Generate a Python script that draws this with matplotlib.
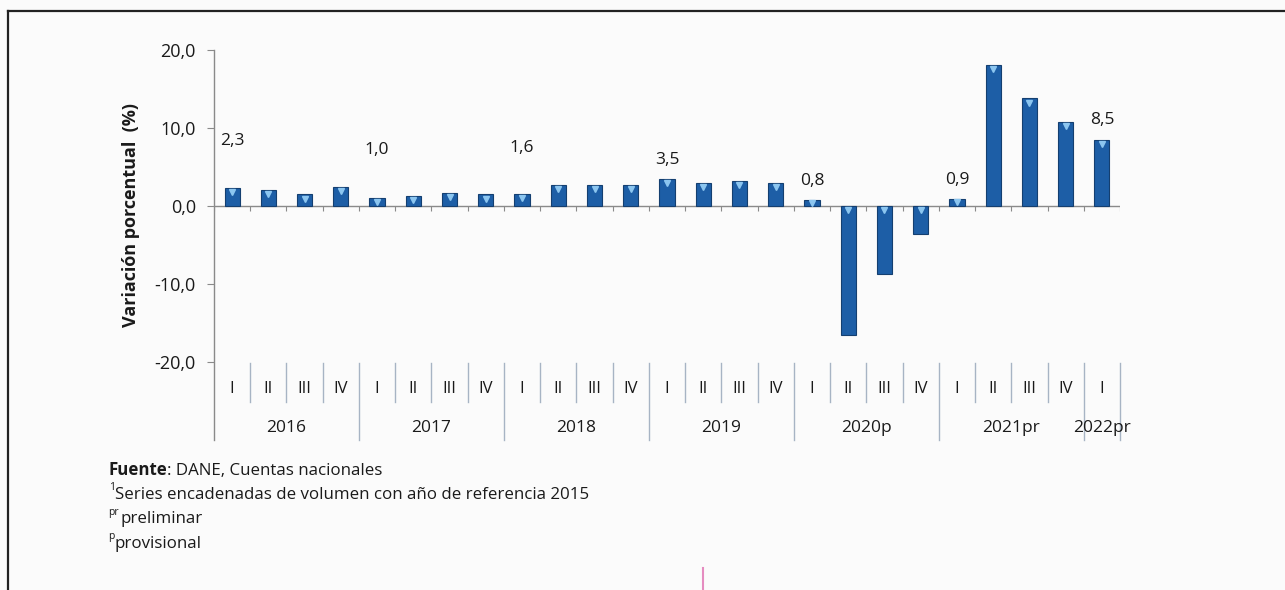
import matplotlib
matplotlib.use("Agg")
import matplotlib.pyplot as plt
from matplotlib.lines import Line2D
from matplotlib.transforms import blended_transform_factory

# ---------------- DATA ----------------
years = ["2016", "2017", "2018", "2019", "2020p", "2021pr", "2022pr"]
quarters = ["I", "II", "III", "IV"] * 6 + ["I"]
quarters_per_year = [4, 4, 4, 4, 4, 4, 1]
values = [2.3, 2.1, 1.5, 2.5, 1.0, 1.3, 1.7, 1.5,
          1.6, 2.7, 2.7, 2.7, 3.5, 3.0, 3.2, 3.0,
          0.8, -16.6, -8.7, -3.6, 0.9, 18.1, 13.8, 10.8,
          8.5]
labelled = [0, 4, 8, 12, 16, 20, 24]
yticks = [-20, -10, 0, 10, 20]

# ---------------- STYLE ----------------
FONT = "Open Sans"
plt.rcParams["font.family"] = [FONT, "DejaVu Sans"]
BAR = "#1d5ea6"
BAR_EDGE = "#143f70"
CAP = "#8cc6f0"
GRAY = "#8a8a8a"
DIV = "#a7b4c4"
TEXT = "#1a1a1a"
LABEL_LIFT = [47, 48, 46, 19, 19, 19, 20]  # pixels above bar top

W, H = 1285, 590
fig = plt.figure(figsize=(W / 100, H / 100), dpi=100)
fig.patch.set_facecolor("#fbfbfb")

ax = fig.add_axes([214 / W, 1 - 362 / H, 906 / W, 312 / H])
ax.set_facecolor("none")

x = list(range(len(values)))
ax.bar(x, values, width=0.42, color=BAR, edgecolor=BAR_EDGE, linewidth=0.8, zorder=3)

# light cap marker on the upper end of each bar
for xi, v in zip(x, values):
    top = max(v, 0)
    drop = min(0.55, abs(v) / 2)
    ax.plot(xi, top - drop, marker="v", ms=4.5, color=CAP, mec=CAP, zorder=4)

# value labels
for i, lift in zip(labelled, LABEL_LIFT):
    v = values[i]
    ax.annotate(f"{v:.1f}".replace(".", ","), xy=(i, max(v, 0)),
                xytext=(0, lift), textcoords="offset pixels",
                ha="center", va="center", fontsize=12.5, color=TEXT)

ax.set_xlim(-0.5, len(values) - 0.5)
ax.set_ylim(-20, 20)

for s in ["top", "right", "bottom", "left"]:
    ax.spines[s].set_visible(False)

ax.set_yticks(yticks)
ax.set_yticklabels([f"{t:.1f}".replace(".", ",") for t in yticks])
ax.tick_params(axis="y", length=5, width=0.8, color=GRAY, pad=8,
               labelsize=13, labelcolor=TEXT)
ax.set_xticks([])

ax.set_ylabel("Variación porcentual  (%)", fontsize=13, fontweight="bold", color=TEXT)
ax.yaxis.set_label_coords(-0.082, 0.47)

# zero line + small category ticks
ax.axhline(0, color=GRAY, lw=1, zorder=2)
bounds = [k - 0.5 for k in range(len(values) + 1)]
ax.vlines(bounds, -0.7, 0, color=GRAY, lw=0.8, zorder=2)

# left axis extended into the category area
ax.add_line(Line2D([0, 0], [-0.25, 1], transform=ax.transAxes,
                   color=GRAY, lw=1, clip_on=False))

# multi-level category axis
tr = blended_transform_factory(ax.transData, ax.transAxes)
for i, q in enumerate(quarters):
    ax.text(i, -0.088, q, transform=tr, ha="center", va="center",
            fontsize=12, color=TEXT, clip_on=False)

start = 0
year_edges = [-0.5]
for yname, n in zip(years, quarters_per_year):
    end = start + n
    ax.text((start + end - 1) / 2, -0.212, yname, transform=tr, ha="center",
            va="center", fontsize=12.5, color=TEXT, clip_on=False)
    year_edges.append(end - 0.5)
    start = end

for b in bounds[1:]:
    low = -0.25 if b in year_edges else -0.128
    ax.add_line(Line2D([b, b], [-0.003, low], transform=tr,
                       color=DIV, lw=1, clip_on=False))

# ---------------- FOOTNOTES ----------------
def fy(py):
    return 1 - py / H

fs = 12.2
t = fig.text(108 / W, fy(470), "Fuente", fontsize=fs, fontweight="bold",
             color=TEXT, va="center")
ax.annotate(": DANE, Cuentas nacionales", xy=(1, 0), xycoords=t, va="bottom",
            fontsize=fs, color=TEXT, annotation_clip=False)
fig.text(109 / W, fy(488), "1", fontsize=7.5, color=TEXT, va="center")
fig.text(115 / W, fy(495), "Series encadenadas de volumen con año de referencia 2015",
         fontsize=fs, color=TEXT, va="center")
fig.text(108 / W, fy(512), "pr", fontsize=7.5, color=TEXT, va="center")
fig.text(121 / W, fy(519), "preliminar", fontsize=fs, color=TEXT, va="center")
fig.text(108 / W, fy(537), "p", fontsize=7.5, color=TEXT, va="center")
fig.text(115 / W, fy(544), "provisional", fontsize=fs, color=TEXT, va="center")

# outer frame of the scanned box
fig.add_artist(Line2D([8 / W, 1], [fy(11), fy(11)], transform=fig.transFigure,
                      color="#222222", lw=1.6))
fig.add_artist(Line2D([8 / W, 8 / W], [fy(11), 0], transform=fig.transFigure,
                      color="#222222", lw=1.6))
fig.add_artist(Line2D([703 / W, 703 / W], [fy(568), 0], transform=fig.transFigure,
                      color="#e58cc0", lw=1.5))

fig.savefig("out.png", dpi=100, facecolor=fig.get_facecolor())
